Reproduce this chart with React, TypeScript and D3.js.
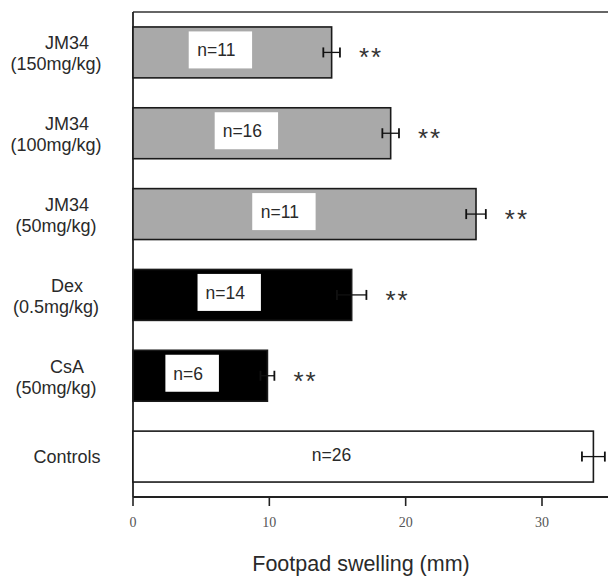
import React from "react";
import * as d3 from "d3";

const groups = ["JM34 150", "JM34 100", "JM34 50", "Dex", "CsA", "Controls"];
const labelLine1 = ["JM34", "JM34", "JM34", "Dex", "CsA", "Controls"];
const labelLine2 = ["(150mg/kg)", "(100mg/kg)", "(50mg/kg)", "(0.5mg/kg)", "(50mg/kg)", ""];
const means = [14.57, 18.9, 25.16, 16.04, 9.86, 33.77];
const sems = [0.61, 0.61, 0.72, 1.08, 0.51, 0.84];
const nLabels = ["n=11", "n=16", "n=11", "n=14", "n=6", "n=26"];
const signif = ["**", "**", "**", "**", "**", ""];
const fills = ["#a9a9a9", "#a9a9a9", "#a9a9a9", "#000000", "#000000", "#ffffff"];
const xTicks = [0, 10, 20, 30];
const xTitle = "Footpad swelling (mm)";

const W = 608;
const H = 578;
const plotLeft = 133;
const plotTop = 12;
const plotBottom = 497;
const plotRight = 608;

export default function App() {
  const x = d3.scaleLinear().domain([0, 30]).range([plotLeft, 542]);
  const y = d3
    .scaleBand<string>()
    .domain(groups)
    .range([plotTop, plotBottom])
    .paddingInner(0.37)
    .paddingOuter(0.185);
  const sans = "'Liberation Sans', Arial, Helvetica, sans-serif";
  const textColor = "#2a2a2a";
  const bw = y.bandwidth();

  return (
    <svg
      width={W}
      height={H}
      style={{ position: "absolute", left: 0, top: 0, display: "block", background: "#fff" }}
    >
      <line x1={plotLeft} x2={plotRight} y1={plotTop} y2={plotTop} stroke="#333" strokeWidth={1.6} />
      <line x1={plotLeft} x2={plotLeft} y1={plotTop} y2={plotBottom} stroke="#222" strokeWidth={1.8} />
      <line x1={plotLeft} x2={plotRight} y1={plotBottom} y2={plotBottom} stroke="#222" strokeWidth={1.8} />
      {xTicks.map((t) => (
        <g key={t}>
          <line x1={x(t)} x2={x(t)} y1={plotBottom} y2={plotBottom + 9} stroke="#222" strokeWidth={1.6} />
          <text
            x={x(t)}
            y={plotBottom + 30}
            textAnchor="middle"
            fontFamily="'Liberation Serif', 'Times New Roman', serif"
            fontSize={14}
            fill="#555"
          >
            {t}
          </text>
        </g>
      ))}
      <text x={361} y={571} textAnchor="middle" fontFamily={sans} fontSize={21.5} fill={textColor}>
        {xTitle}
      </text>

      {groups.map((g, i) => {
        const y0 = y(g) as number;
        const c = y0 + bw / 2;
        const xv = x(means[i]);
        const e0 = x(means[i] - sems[i]);
        const e1 = x(means[i] + sems[i]);
        const lab = nLabels[i];
        const labC = x(means[i] * 0.44);
        const boxW = lab.length * 0.5625 * 17.5 + 24;
        const hasBox = fills[i] !== "#ffffff";
        return (
          <g key={g}>
            <rect
              x={x(0)}
              y={y0}
              width={xv - x(0)}
              height={bw}
              fill={fills[i]}
              stroke="#1a1a1a"
              strokeWidth={1.6}
            />
            <line x1={e0} x2={e1} y1={c} y2={c} stroke="#111" strokeWidth={1.3} />
            <line x1={e0} x2={e0} y1={c - 5} y2={c + 5} stroke="#111" strokeWidth={1.8} />
            <line x1={e1} x2={e1} y1={c - 5} y2={c + 5} stroke="#111" strokeWidth={1.8} />
            {hasBox && (
              <rect x={labC - boxW / 2} y={c - 21} width={boxW} height={37} fill="#fff" />
            )}
            <text
              x={labC - 4}
              y={c + 4}
              textAnchor="middle"
              fontFamily={sans}
              fontSize={17.5}
              fill={textColor}
            >
              {lab}
            </text>
            {signif[i] && (
              <text
                x={e1 + 19}
                y={c + 14}
                fontFamily={sans}
                fontSize={26}
                letterSpacing={2}
                fill="#333"
              >
                {signif[i]}
              </text>
            )}
            {labelLine2[i] ? (
              <>
                <text x={67} y={c - 3} textAnchor="middle" fontFamily={sans} fontSize={18} fill={textColor}>
                  {labelLine1[i]}
                </text>
                <text x={56} y={c + 18} textAnchor="middle" fontFamily={sans} fontSize={18} fill={textColor}>
                  {labelLine2[i]}
                </text>
              </>
            ) : (
              <text x={67} y={c + 6.5} textAnchor="middle" fontFamily={sans} fontSize={18} fill={textColor}>
                {labelLine1[i]}
              </text>
            )}
          </g>
        );
      })}
    </svg>
  );
}
